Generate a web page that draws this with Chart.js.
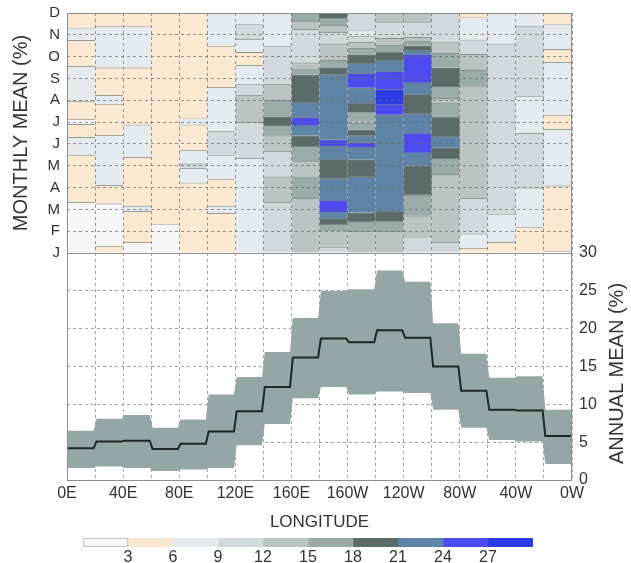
<!DOCTYPE html>
<html><head><meta charset="utf-8">
<script src="https://cdn.jsdelivr.net/npm/chart.js@4.4.0/dist/chart.umd.min.js"></script>
<style>
html,body{margin:0;padding:0;background:#fff;overflow:hidden}
#wrap{position:relative;width:631px;height:563px;background:#fff;overflow:hidden}
canvas{position:absolute;left:0}
</style></head><body>
<div id="wrap">
<canvas id="c1" width="631" height="272" style="top:-3px"></canvas>
<canvas id="c2" width="631" height="299" style="top:236px"></canvas>
<canvas id="c3" width="631" height="33" style="top:530px"></canvas>
</div>
<script>
// ---------- data ----------
const monthLabels = ['J','F','M','A','M','J','J','A','S','O','N','D'];
const lonTickLabels = ['0E','40E','80E','120E','160E','160W','120W','80W','40W','0W'];
const BIN = 20; // degrees per longitude bin

// monthly mean (%) per 20-degree longitude bin (0E -> 0W)
const jan = [1.5, 3.5, 2, 1.5, 3, 4, 7.5, 11, 12, 11, 13, 12, 10.5, 11, 5, 5, 5.5, 2.8];
const feb = [1.5, 2, 4, 2.5, 5.9, 5, 6, 11, 13, 14.5, 15, 15, 12.5, 13, 9.5, 7, 5.5, 5];
const mar = [2.5, 2, 6.2, 4, 4.5, 6.2, 6, 11.5, 14, 25.5, 22, 21.5, 16, 15, 11.5, 9.5, 8, 6];
const apr = [4, 5.8, 5, 4, 5, 5, 8, 13, 16, 22, 22.5, 22.5, 19, 13.5, 12.5, 9, 9, 5.9];
const may = [4.5, 7.5, 5, 4.5, 9.5, 7.5, 8.5, 11, 14, 19.5, 19.5, 22.5, 21, 16, 13.5, 12, 11, 7];
const jun = [7.5, 7, 7.5, 4.5, 4.5, 10.5, 10, 12.5, 18.5, 24.5, 24.8, 23, 26, 22, 14.8, 9.5, 10, 7];
const jul = [2.5, 4.5, 5.8, 4.5, 6.2, 8, 12, 19, 25, 22, 14.5, 22, 22, 19, 14, 9, 8, 5.5];
const aug = [6.2, 6.3, 5, 5.8, 5, 7.5, 13.5, 15, 20.5, 22.5, 22, 28, 19.5, 14.5, 12, 9, 8.5, 7];
const sep = [8, 5, 5, 5, 4.5, 5, 7.5, 11, 20, 22.5, 25.5, 26, 25, 20, 16.5, 11.5, 11, 7.5];
const oct = [4.5, 7, 7, 5, 4.5, 5, 5, 9.5, 9, 13.5, 19, 20, 25.5, 16, 12.5, 10.5, 12, 5.5];
const nov = [6.5, 7, 7, 5, 4.5, 7, 10, 8.5, 10, 11, 8.5, 10.5, 10.5, 10, 8, 8, 10, 7];
const dec = [5, 4.5, 4.5, 5, 4, 7, 8, 8, 18, 20, 11, 13, 13, 10.5, 5.5, 7.5, 7.5, 5];
const monthly = [jan, feb, mar, apr, may, jun, jul, aug, sep, oct, nov, dec];

// annual mean (%) and its spread per longitude bin
const annualMean  = [4.2, 5.1, 5.2, 4.1, 4.8, 6.4, 9.1, 12.3, 16.2, 18.7, 18.2, 19.8, 18.8, 15.0, 11.8, 9.3, 9.2, 5.8];
const annualUpper = [6.5, 8.1, 8.6, 6.9, 8.0, 11.3, 13.6, 16.9, 21.4, 25.0, 25.2, 27.7, 26.2, 20.7, 16.7, 13.5, 13.7, 9.3];
const annualLower = [1.6, 1.8, 1.6, 1.2, 1.4, 1.6, 4.6, 7.4, 10.8, 12.3, 11.3, 11.7, 11.5, 9.3, 6.9, 5.3, 5.1, 2.1];

const levelEdges = [0, 3, 6, 9, 12, 15, 18, 21, 24, 27, 30];
const levelColors = ['#f7f7f7','#fbe8d0','#e4eaed','#d2d9dc','#bac4c5','#9aabaa','#5b6b69','#5e85a7','#4b4bf0','#2b3be6'];

const titleMonthly = 'MONTHLY MEAN (%)';
const titleAnnual = 'ANNUAL MEAN (%)';
const titleLon = 'LONGITUDE';

// ---------- styles ----------
const FONT = '"Liberation Sans", Arial, sans-serif';
const TXT = '#333';
Chart.defaults.font.family = FONT;
Chart.defaults.color = TXT;
const SLANT = 1;

// ---------- contour bands from monthly grid ----------
function levelOf(v){ return Math.max(0, Math.min(levelColors.length - 1, Math.floor(v / 3))); }
const nBins = jan.length;
const pieces = [];
for (let j = 0; j < nBins; j++) {
  const col = monthly.map(r => r[j]);
  const segs = [];
  for (let m = 0; m < col.length - 1; m++) {
    const a = col[m], b = col[m + 1];
    const lo = Math.min(a, b), hi = Math.max(a, b);
    const cross = [];
    levelEdges.slice(1, -1).forEach(e => { if (e > lo && e < hi) cross.push(m + (e - a) / (b - a)); });
    cross.sort((p, q) => p - q);
    const pts = [m, ...cross, m + 1];
    for (let k = 0; k < pts.length - 1; k++) {
      const t = (pts[k] + pts[k + 1]) / 2 - m;
      const l = levelOf(a + (b - a) * t);
      if (segs.length && segs[segs.length - 1].lvl === l) segs[segs.length - 1].y1 = pts[k + 1];
      else segs.push({lvl: l, y0: pts[k], y1: pts[k + 1]});
    }
  }
  segs.forEach((s, i) => pieces.push({x: j * BIN + BIN / 2, y: [s.y0, s.y1], lvl: s.lvl, edge: i < segs.length - 1 ? 1 : 0}));
}

function stepPoints(vals){
  const pts = [];
  vals.forEach((v, i) => {
    const x0 = i * BIN, x1 = x0 + BIN;
    pts.push({x: i ? x0 + SLANT : x0, y: v});
    pts.push({x: i < vals.length - 1 ? x1 - SLANT : x1, y: v});
  });
  return pts;
}

const framePlugin = {
  id: 'frame',
  afterDraw(chart) {
    const {ctx, chartArea: a} = chart;
    ctx.save();
    ctx.strokeStyle = '#8e8e8e';
    ctx.lineWidth = 1;
    ctx.strokeRect(Math.round(a.left) + 0.5, Math.round(a.top) + 0.5, Math.round(a.width) - 1, Math.round(a.height));
    ctx.restore();
  }
};
const rightTitlePlugin = {
  id: 'rightTitle',
  afterDraw(chart) {
    const {ctx, chartArea: a} = chart;
    ctx.save();
    ctx.translate(a.right + 45, (a.top + a.bottom) / 2 + 7);
    ctx.rotate(-Math.PI / 2);
    ctx.font = '20px ' + FONT;
    ctx.fillStyle = TXT;
    ctx.textAlign = 'center';
    ctx.textBaseline = 'middle';
    ctx.fillText(titleAnnual, 0, 0);
    ctx.restore();
  }
};

const noInteract = {legend: {display: false}, tooltip: {enabled: false}};

// ---------- top panel: monthly contour ----------
new Chart(document.getElementById('c1'), {
  type: 'bar',
  data: {datasets: [{
    data: pieces,
    backgroundColor: c => c.raw ? levelColors[c.raw.lvl] : '#ccc',
    borderColor: 'rgba(95,105,105,0.8)',
    borderWidth: c => c.raw ? {top: c.raw.edge, bottom: 0, left: 0, right: 0} : 0,
    borderSkipped: false,
    barPercentage: 1, categoryPercentage: 1, grouped: false
  }]},
  options: {
    responsive: false, animation: false, events: [],
    plugins: noInteract,
    layout: {padding: {top: 0, right: 59, bottom: 0, left: 0}},
    scales: {
      x: {type: 'linear', min: 0, max: 360, offset: false,
          grid: {color: 'rgba(105,105,105,0.7)', lineWidth: 1, drawTicks: false, offset: false, z: 1},
          border: {display: false, dash: [3, 3]},
          ticks: {display: false, stepSize: BIN},
          afterFit: a => { a.height = 0; }},
      y: {type: 'linear', min: 0, max: 11,
          grid: {color: 'rgba(105,105,105,0.7)', lineWidth: 1, drawTicks: false, z: 1},
          border: {display: false, dash: [3, 3]},
          ticks: {stepSize: 1, autoSkip: false, padding: 7, color: TXT, font: {size: 15, lineHeight: 1.2},
                  callback: v => monthLabels[v]},
          title: {display: true, text: titleMonthly, color: TXT, font: {size: 20}, padding: {top: 9, bottom: 0}},
          afterFit: a => { a.width = 67; }}
    }
  },
  plugins: [framePlugin]
});

// ---------- bottom panel: annual mean ----------
new Chart(document.getElementById('c2'), {
  type: 'line',
  data: {datasets: [
    {data: stepPoints(annualMean), borderColor: '#1c2727', borderWidth: 2, pointRadius: 0, fill: false, tension: 0},
    {data: stepPoints(annualUpper), borderWidth: 0, borderColor: 'rgba(0,0,0,0)', pointRadius: 0, backgroundColor: '#94a6a6', fill: '+1', tension: 0},
    {data: stepPoints(annualLower), borderWidth: 0, borderColor: 'rgba(0,0,0,0)', pointRadius: 0, fill: false, tension: 0}
  ]},
  options: {
    responsive: false, animation: false, events: [],
    plugins: noInteract,
    layout: {padding: {top: 0, right: 0, bottom: 0, left: 67}},
    scales: {
      x: {type: 'linear', min: 0, max: 360,
          grid: {color: 'rgba(140,140,140,0.8)', lineWidth: 1, drawTicks: false},
          border: {display: false, dash: [3, 3]},
          ticks: {stepSize: BIN, autoSkip: false, maxRotation: 0, padding: 4, color: TXT, font: {size: 16},
                  callback: v => (v % 40 === 0 ? lonTickLabels[v / 40] : '')},
          title: {display: true, text: titleLon, color: TXT, font: {size: 17}, padding: {top: 0, bottom: 2}},
          afterFit: a => { a.height = 55; }},
      y: {type: 'linear', position: 'right', min: 0, max: 30,
          grid: {color: 'rgba(140,140,140,0.8)', lineWidth: 1, drawTicks: false},
          border: {display: false, dash: [3, 3]},
          ticks: {stepSize: 5, padding: 7, color: TXT, font: {size: 16, lineHeight: 1.25}},
          afterFit: a => { a.width = 59; }}
    }
  },
  plugins: [framePlugin, rightTitlePlugin]
});

// ---------- colour bar ----------
new Chart(document.getElementById('c3'), {
  type: 'bar',
  data: {labels: [''], datasets: levelColors.map((c, i) => ({
    data: [[levelEdges[i], levelEdges[i + 1]]],
    backgroundColor: c, borderColor: 'rgba(150,150,150,0.7)', borderWidth: i === 0 ? 1 : 0, borderSkipped: false,
    barPercentage: 1, categoryPercentage: 1, grouped: false
  }))},
  options: {
    indexAxis: 'y', responsive: false, animation: false, events: [],
    plugins: noInteract,
    layout: {padding: {top: 8, right: 98, bottom: 0, left: 83}},
    scales: {
      x: {type: 'linear', min: levelEdges[0], max: levelEdges[levelEdges.length - 1],
          grid: {display: false, drawTicks: false}, border: {display: false},
          ticks: {stepSize: 3, autoSkip: false, maxRotation: 0, padding: 1, color: TXT, font: {size: 16},
                  callback: v => (v > levelEdges[0] && v < levelEdges[levelEdges.length - 1] ? v : '')},
          afterFit: a => { a.height = 16; }},
      y: {display: false}
    }
  }
});
</script>
</body></html>
